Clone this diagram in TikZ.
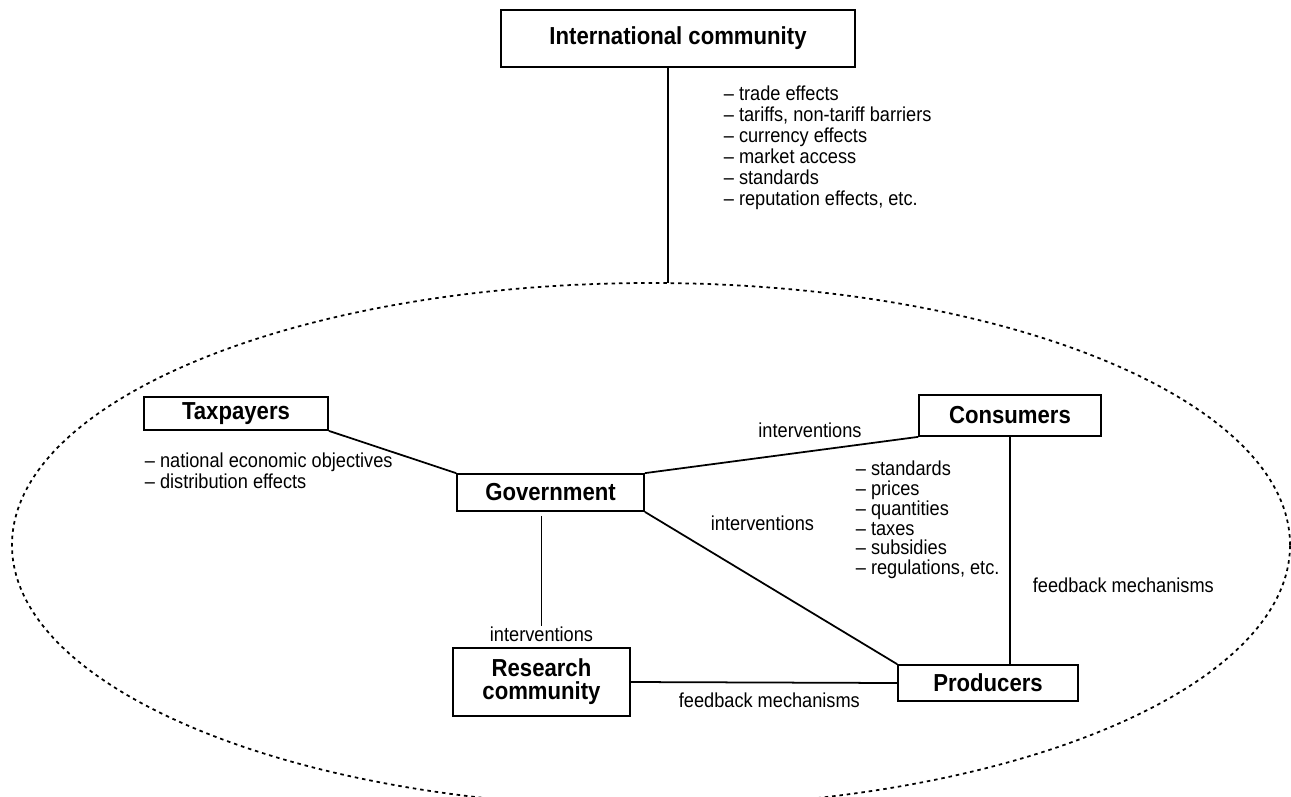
\documentclass[tikz,border=0pt]{standalone}
\usepackage{fontspec}
\setmainfont{Liberation Sans}[FakeStretch=0.9]
\usetikzlibrary{positioning,shapes.geometric}

\begin{document}
\begin{tikzpicture}[
		x=0.2mm, y=-0.2mm,
		line width=1pt,
		boxshape/.style={draw, inner sep=0pt, align=center, font=\fontsize{14}{13}\selectfont\bfseries},
		listshape/.style={inner sep=0pt, align=left, anchor=north west, font=\fontsize{11.5}{12}\selectfont},
		linklabel/.style={inner sep=0pt, font=\fontsize{11.5}{12}\selectfont},
		boundary/.style={draw, ellipse, inner sep=0pt, dash pattern=on 2pt off 2.2pt},
	]
		\useasboundingbox (0,0) rectangle (1291,796);
		\node [boundary, minimum width=255.6mm, minimum height=104.8mm] (region) at (651,545) {};
		\coordinate (link) at (668,283);
		
		\node [boxshape, minimum width=70.8mm, minimum height=11.4mm] (intl) at (678,38.5) {International community};
		\node [boxshape, minimum width=36.8mm, minimum height=6.6mm] (tax) at (236,413.5) {Taxpayers};
		\node [boxshape, minimum width=37.4mm, minimum height=7.4mm] (gov) at (550.5,492.5) {Government};
		\node [boxshape, minimum width=36.4mm, minimum height=8.2mm] (cons) at (1010,415.5) {Consumers};
		\node [boxshape, minimum width=35.4mm, minimum height=13.6mm] (res) at (541.5,682) {Research\\community};
		\node [boxshape, minimum width=36mm, minimum height=7.2mm] (prod) at (988,683) {Producers};
		
		\node [listshape] (intllist) at (723,85) {-- trade effects\\-- tariffs, non-tariff barriers\\-- currency effects\\-- market access\\-- standards\\-- reputation effects, etc.};
		\node [listshape] (taxlist) at (144,452) {-- national economic objectives\\-- distribution effects};
		\node [listshape, font=\fontsize{11.5}{11.3}\selectfont] (govlist) at (855,460) {-- standards\\-- prices\\-- quantities\\-- taxes\\-- subsidies\\-- regulations, etc.};
		
		\node [linklabel, anchor=base] (consint) at (810,437) {interventions};
		\node [linklabel, anchor=base west] (prodint) at (710,530) {interventions};
		\node [linklabel, above=1mm of res] (resint) {interventions};
		\node [linklabel, anchor=base west] (consfb) at (1032,592) {feedback mechanisms};
		\node [linklabel, anchor=base west] (resfb) at (678,707) {feedback mechanisms};
		
		\draw (link |- intl.south) -- (link);
		\draw (tax.south east) -- (gov.north west);
		\draw (gov.north east) -- (cons.south west);
		\draw (gov.south east) -- (prod.north west);
		\draw ([yshift=-0.8mm]gov.south -| resint.north) -- (resint.north);
		\draw (res.east) -- (prod.west);
		\draw (cons.south) -- (cons.south |- prod.north);
	\end{tikzpicture}
\end{document}
